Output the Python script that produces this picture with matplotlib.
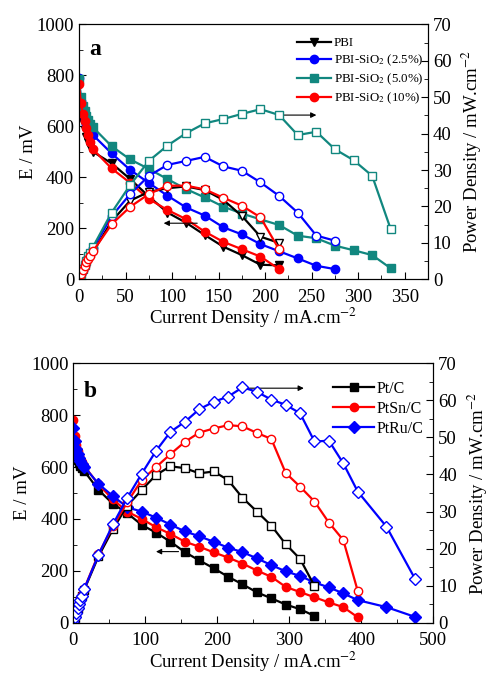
import numpy as np
import matplotlib.pyplot as plt
from matplotlib.ticker import MultipleLocator

plt.rcParams['font.family'] = ['Liberation Serif', 'DejaVu Serif']
plt.rcParams['mathtext.fontset'] = 'stix'

# ---- panel a : PBI membranes ----
x_pbi = [0, 2, 4, 6, 8, 10, 12, 15, 35, 55, 75, 95, 115, 135, 155, 175, 195, 215]
E_pbi = [760, 660, 615, 585, 560, 540, 520, 500, 455, 393, 325, 262, 222, 174, 128, 95, 57, 55]
P_pbi = [0, 1.3, 2.5, 3.5, 4.5, 5.4, 6.2, 7.5, 15.9, 21.6, 24.0, 25.0, 25.5, 24.5, 21.8, 17.4, 11.7, 10.0]

x_25 = [0, 2, 4, 6, 8, 10, 12, 15, 35, 55, 75, 95, 115, 135, 155, 175, 195, 215, 235, 255, 275]
E_25 = [790, 700, 655, 630, 610, 595, 580, 566, 494, 429, 378, 328, 282, 250, 204, 176, 138, 110, 82, 53, 40]
P_25 = [0, 1.4, 2.6, 3.8, 4.9, 6.0, 7.0, 8.5, 17.3, 23.4, 28.4, 31.4, 32.5, 33.6, 31.0, 29.8, 26.6, 22.9, 18.3, 12.0, 10.6]

x_50 = [0, 2, 4, 6, 8, 10, 12, 15, 35, 55, 75, 95, 115, 135, 155, 175, 195, 215, 235, 255, 275, 295, 315, 335]
E_50 = [785, 715, 680, 660, 640, 625, 610, 596, 522, 470, 433, 393, 354, 321, 285, 258, 235, 213, 171, 161, 132, 114, 95, 43]
P_50 = [0, 1.4, 2.7, 4.0, 5.1, 6.3, 7.3, 8.9, 18.3, 25.9, 32.5, 36.7, 40.1, 42.8, 44.0, 45.4, 46.7, 45.1, 39.6, 40.5, 35.7, 32.7, 28.4, 13.7]

x_10 = [0, 2, 4, 6, 8, 10, 12, 15, 35, 55, 75, 95, 115, 135, 155, 175, 195, 215]
E_10 = [765, 690, 650, 620, 595, 565, 540, 510, 435, 378, 315, 272, 236, 187, 147, 118, 89, 40]
P_10 = [0, 1.4, 2.6, 3.7, 4.8, 5.7, 6.5, 7.7, 15.1, 19.9, 23.4, 25.7, 25.7, 24.7, 22.4, 20.2, 17.0, 8.2]

# ---- panel b : catalysts ----
x_pt = [0, 2, 4, 6, 8, 10, 12, 15, 35, 55, 75, 95, 115, 135, 155, 175, 195, 215, 235, 255, 275, 295, 315, 335]
E_pt = [705, 670, 645, 628, 615, 604, 595, 585, 512, 458, 422, 377, 347, 312, 272, 240, 210, 177, 148, 117, 94, 70, 52, 26]
P_pt = [0, 1.3, 2.6, 3.8, 4.9, 6.0, 7.1, 8.8, 17.9, 25.2, 31.6, 35.8, 39.9, 42.2, 41.7, 40.3, 40.8, 38.5, 33.7, 30.0, 26.2, 21.2, 17.2, 9.9]

x_sn = [0, 2, 4, 6, 8, 10, 12, 15, 35, 55, 75, 95, 115, 135, 155, 175, 195, 215, 235, 255, 275, 295, 315, 335, 355, 375, 395]
E_sn = [780, 720, 685, 660, 643, 630, 618, 605, 533, 475, 428, 400, 368, 342, 312, 293, 271, 251, 228, 201, 177, 138, 118, 98, 78, 60, 21]
P_sn = [0, 1.4, 2.7, 4.0, 5.1, 6.3, 7.4, 9.1, 18.5, 26.0, 32.5, 38.5, 42.0, 45.5, 48.8, 51.3, 52.4, 53.3, 53.0, 51.2, 49.6, 40.4, 36.7, 32.7, 27.0, 22.3, 8.6]

x_ru = [0, 2, 4, 6, 8, 10, 12, 15, 35, 55, 75, 95, 115, 135, 155, 175, 195, 215, 235, 255, 275, 295, 315, 335, 355, 375, 395, 435, 475]
E_ru = [750, 700, 670, 650, 635, 622, 612, 602, 535, 488, 445, 428, 405, 378, 352, 333, 312, 289, 272, 248, 222, 198, 180, 155, 136, 113, 87, 60, 22]
P_ru = [0, 1.4, 2.7, 3.9, 5.1, 6.2, 7.3, 9.0, 18.3, 26.5, 33.7, 40.2, 46.4, 51.5, 54.2, 57.6, 59.6, 61.0, 63.5, 62.3, 60.2, 58.8, 56.5, 48.9, 49.1, 43.0, 35.4, 25.9, 11.7]

teal = '#11877f'
lw = 1.6
ms = 6
fs = 13.5


def style_axes(ax, ax2, xmax, xmaj, xmin):
  ax.set_xlim(0, xmax)
  ax.set_ylim(0, 1000)
  ax2.set_ylim(0, 70)
  ax.xaxis.set_major_locator(MultipleLocator(xmaj))
  ax.xaxis.set_minor_locator(MultipleLocator(xmin))
  ax.yaxis.set_major_locator(MultipleLocator(200))
  ax.yaxis.set_minor_locator(MultipleLocator(100))
  ax2.yaxis.set_major_locator(MultipleLocator(10))
  ax2.yaxis.set_minor_locator(MultipleLocator(5))
  for a in (ax, ax2):
    a.tick_params(which='both', direction='in', labelsize=fs)
    a.tick_params(which='major', length=5)
    a.tick_params(which='minor', length=3)
  ax.tick_params(axis='x', which='major', pad=7)
  ax.set_xlabel('Current Density / mA.cm$^{-2}$', fontsize=fs, labelpad=0)
  ax.set_ylabel('E / mV', fontsize=fs, labelpad=0)
  ax2.set_ylabel('Power Density / mW.cm$^{-2}$', fontsize=fs, labelpad=6)


def curve(ax, ax2, x, e, p, color, marker, label):
  ax.plot(x, e, color=color, lw=lw, marker=marker, ms=ms, mfc=color, mec=color, label=label)
  ax2.plot(x, p, color=color, lw=lw, marker=marker, ms=ms, mfc='white', mec=color)


fig = plt.figure(figsize=(4.88, 6.75), dpi=100)

# panel a
ax = fig.add_axes([0.1619, 0.5862, 0.7152, 0.3778])
ax2 = ax.twinx()
curve(ax, ax2, x_pbi, E_pbi, P_pbi, 'black', 'v', 'PBI')
curve(ax, ax2, x_25, E_25, P_25, 'blue', 'o', 'PBI-SiO$_2$ (2.5%)')
curve(ax, ax2, x_50, E_50, P_50, teal, 's', 'PBI-SiO$_2$ (5.0%)')
curve(ax, ax2, x_10, E_10, P_10, 'red', 'o', 'PBI-SiO$_2$ (10%)')
style_axes(ax, ax2, 375, 50, 25)
ax.text(0.03, 0.9, 'a', transform=ax.transAxes, fontsize=17, fontweight='bold', va='center')
ax.annotate('', xy=(88, 220), xytext=(130, 220),
            arrowprops=dict(arrowstyle='-|>', color='black', lw=0.8, mutation_scale=8))
ax.annotate('', xy=(258, 644), xytext=(212, 644),
            arrowprops=dict(arrowstyle='-|>', color='black', lw=0.8, mutation_scale=8))
ax.legend(loc='upper left', bbox_to_anchor=(0.6, 0.985), frameon=False, fontsize=9.3,
          handlelength=2.6, handletextpad=0.2, labelspacing=0.28, borderaxespad=0.3)

# panel b
bx = fig.add_axes([0.1502, 0.0775, 0.7377, 0.3843])
bx2 = bx.twinx()
curve(bx, bx2, x_pt, E_pt, P_pt, 'black', 's', 'Pt/C')
curve(bx, bx2, x_sn, E_sn, P_sn, 'red', 'o', 'PtSn/C')
curve(bx, bx2, x_ru, E_ru, P_ru, 'blue', 'D', 'PtRu/C')
style_axes(bx, bx2, 500, 100, 50)
bx.text(0.03, 0.89, 'b', transform=bx.transAxes, fontsize=17, fontweight='bold', va='center')
bx.annotate('', xy=(111, 274), xytext=(150, 274),
            arrowprops=dict(arrowstyle='-|>', color='black', lw=0.8, mutation_scale=8))
bx.annotate('', xy=(324, 904), xytext=(232, 904),
            arrowprops=dict(arrowstyle='-|>', color='black', lw=0.8, mutation_scale=8))
bx.legend(loc='upper left', bbox_to_anchor=(0.69, 0.975), frameon=False, fontsize=11.5,
          handlelength=2.6, handletextpad=0.15, labelspacing=0.25, borderaxespad=0.3)

fig.savefig('out.png', dpi=100)
